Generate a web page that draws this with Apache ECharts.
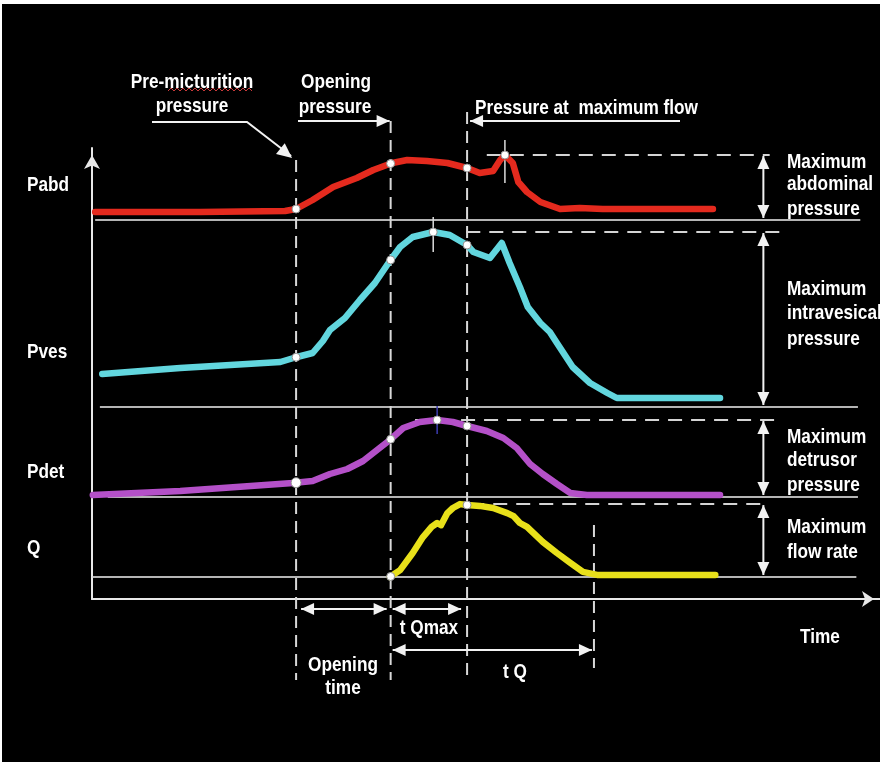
<!DOCTYPE html>
<html>
<head>
<meta charset="utf-8">
<script src="https://cdn.jsdelivr.net/npm/echarts@6/dist/echarts.min.js"></script>
<style>
  html, body { margin: 0; padding: 0; background: #fff; }
  #chart { width: 880px; height: 764px; }
</style>
</head>
<body>
<div id="chart"></div>
<script>
// ---- Urodynamic pressure-flow study (schematic) ----
// Time axis in arbitrary units (0..100)
const timeRange = [0, 100];
// Key events: pre-micturition, opening, maximum flow, end of flow
const eventTimes = [25.9, 37.9, 47.6, 63.7];

// Abdominal pressure [time, cmH2O]
const pabd = [[0.4,4],[13.7,4],[24.5,4.5],[25.9,5.5],[28.0,10],[30.6,16.5],[33.6,21],[35.7,25],[38.1,28.5],
  [40.0,30],[42.5,29.5],[45.1,28.5],[47.6,26],[49.2,23.5],[50.9,24.5],[51.8,30],[52.4,32.5],[53.4,28.5],
  [54.1,19],[55.2,14],[56.9,9],[59.4,5.5],[61.9,6],[64.8,5.5],[78.8,5.5]];
// Intravesical pressure [time, cmH2O]
const pves = [[1.3,16.5],[11.2,19.5],[23.9,22.5],[26.0,25],[28.0,27],[29.3,33],[30.2,38.5],[32.1,44.5],[34.0,53.5],
  [35.9,62],[37.8,73],[39.1,80],[40.7,85],[43.3,87.5],[45.4,86],[47.6,81],[48.4,77.5],[50.5,74.5],[52.0,82],
  [53.0,72],[54.3,60],[55.3,50],[56.9,42],[58.1,37.5],[59.0,32],[61.0,20],[63.2,12],[65.4,7],[66.6,4.5],
  [69.5,4.5],[79.7,4.5]];
// Detrusor pressure [time, cmH2O]
const pdet = [[0.1,1],[11.2,3],[25.5,7],[28.0,8],[30.2,11.5],[32.4,14],[34.4,18],[36.5,24.5],[37.8,28.5],
  [39.5,34.5],[41.6,37.5],[43.8,38.5],[45.8,37.5],[47.6,35.5],[50.1,33],[52.2,29.5],[53.9,24.5],[55.6,16.5],
  [57.2,11.5],[59.0,6.5],[60.7,2],[62.8,1],[79.7,1]];
// Flow rate [time, ml/s]
const qflow = [[37.8,0],[39.1,2.3],[40.7,8],[42.0,13.3],[43.1,16.7],[43.8,18],[44.3,17.3],[45.1,21.3],
  [45.8,23],[46.7,24.3],[47.6,24],[49.2,23.7],[50.9,23],[52.7,21.3],[53.5,20.3],[54.3,18],[55.2,16.7],
  [56.0,14.7],[57.2,11.7],[59.0,8],[60.7,4.7],[62.3,1.7],[64.1,0.7],[67.0,0.7],[79.1,0.7]];

const traceNames = ['Pabd', 'Pves', 'Pdet', 'Q'];
const traceData = [pabd, pves, pdet, qflow];
const traceColors = ['#e42a1e', '#62d6de', '#b450c8', '#e8e01a'];
const yRanges = [40, 90, 40, 30];
// Which events get a marker dot on each trace
const dotEvents = [[0, 1, 2], [0, 1, 2], [0, 1, 2], [1, 2]];
// Extent of zero baseline and of the dashed maximum line, in time units
const baseSpans = [[0.4, 97.5], [1.0, 97.2], [2.0, 97.2], [0.1, 97.0]];
const maxSpans = [[50.1, 86.0], [47.5, 88.3], [41.0, 87.6], [48.0, 85.7]];
const arrowTime = 85.2;

// Layout
const panelGrids = [
  { top: 140, height: 80 },
  { top: 227, height: 180 },
  { top: 417, height: 80 },
  { top: 487, height: 90 }
];
const FONT = 'bold 21px "Liberation Sans", Arial, sans-serif';
const NARROW = 0.82; // horizontal squeeze for a condensed look
const WHITE = '#f2f2f2';

function valueAt(d, t) {
  if (t <= d[0][0]) return d[0][1];
  for (let i = 0; i < d.length - 1; i++) {
    const [t0, v0] = d[i], [t1, v1] = d[i + 1];
    if (t >= t0 && t <= t1) return v0 + (v1 - v0) * (t - t0) / (t1 - t0);
  }
  return d[d.length - 1][1];
}
function peakOf(d) {
  return d.reduce((m, p) => (p[1] > m[1] ? p : m), d[0]);
}

const chart = echarts.init(document.getElementById('chart'));

const grids = panelGrids.map(g => ({ left: 92, width: 788, top: g.top, height: g.height }));
grids.push({ left: 92, width: 788, top: 148, height: 451 }); // frame with axes

const xAxes = grids.map((g, i) => ({
  gridIndex: i, type: 'value', min: timeRange[0], max: timeRange[1],
  show: i === 4,
  axisLine: { show: true, onZero: false, symbol: ['none', 'arrow'], symbolSize: [12, 12], symbolOffset: [0, -6],
    lineStyle: { color: '#e8e8e8', width: 2 } },
  axisTick: { show: false }, axisLabel: { show: false }, splitLine: { show: false }
}));
const yAxes = grids.map((g, i) => ({
  gridIndex: i, type: 'value', min: 0, max: i < 4 ? yRanges[i] : 1,
  show: i === 4,
  axisLine: { show: true, onZero: false, symbol: ['none', 'arrow'], symbolSize: [12, 14], symbolOffset: [0, -7],
    lineStyle: { color: '#e8e8e8', width: 2 } },
  axisTick: { show: false }, axisLabel: { show: false }, splitLine: { show: false }
}));

const series = [];
traceData.forEach((d, i) => {
  const peak = peakOf(d);
  // baseline + dashed maximum line
  series.push({
    type: 'line', xAxisIndex: i, yAxisIndex: i, data: [], silent: true, z: 1, animation: false,
    markLine: {
      silent: true, symbol: 'none', z: 1, animation: false, label: { show: false },
      data: [
        [{ coord: [baseSpans[i][0], 0], lineStyle: { color: '#b4b4b4', width: 2, type: 'solid' } },
         { coord: [baseSpans[i][1], 0] }],
        [{ coord: [maxSpans[i][0], peak[1]], lineStyle: { color: '#d4d4d4', width: 2, type: [14, 9] } },
         { coord: [maxSpans[i][1], peak[1]] }]
      ]
    }
  });
  // trace
  series.push({
    name: traceNames[i], type: 'line', xAxisIndex: i, yAxisIndex: i, data: d, z: 3,
    showSymbol: false, clip: false, animation: false, smooth: false,
    lineStyle: { color: traceColors[i], width: 6.5, cap: 'round', join: 'round' }
  });
  // event dots
  const dots = dotEvents[i].map(e => [eventTimes[e], valueAt(d, eventTimes[e])]);
  if (i < 3) dots.push([peak[0], peak[1]]);
  series.push({
    type: 'scatter', xAxisIndex: i, yAxisIndex: i, z: 4, animation: false, clip: false,
    data: dots.map((p, k) => ({
      value: p,
      symbolSize: (i === 2 && k === 0) ? 10 : 8
    })),
    itemStyle: { color: '#ffffff', borderColor: '#909090', borderWidth: 1, opacity: 1 }
  });
});

chart.setOption({
  backgroundColor: '#ffffff',
  animation: false,
  grid: grids,
  xAxis: xAxes,
  yAxis: yAxes,
  series: series
});

// ---- Annotations ----
function px(gridIndex, t, v) { return chart.convertToPixel({ gridIndex }, [t, v]); }
function xOf(t) { return px(4, t, 0)[0]; }

function seg(x1, y1, x2, y2, o = {}) {
  return { type: 'line', silent: true, z: o.z != null ? o.z : 6,
    shape: { x1, y1, x2, y2 },
    style: { stroke: o.color || WHITE, lineWidth: o.width || 2, lineDash: o.dash || null } };
}
function head(tx, ty, fx, fy, o = {}) {
  const L = o.len || 13, H = o.half || 6;
  const dx = tx - fx, dy = ty - fy, n = Math.hypot(dx, dy);
  const ux = dx / n, uy = dy / n;
  const bx = tx - ux * L, by = ty - uy * L;
  return { type: 'polygon', silent: true, z: 7,
    shape: { points: [[tx, ty], [bx - uy * H, by + ux * H], [bx + uy * H, by - ux * H]] },
    style: { fill: o.color || WHITE } };
}
function arrow(x1, y1, x2, y2, both) {
  const els = [seg(x1, y1, x2, y2), head(x2, y2, x1, y1)];
  if (both) els.push(head(x1, y1, x2, y2));
  return els;
}
function label(text, x, y, align) {
  return { type: 'text', silent: true, z: 8, x, y, scaleX: NARROW,
    style: { text, x: 0, y: 0, fill: '#ffffff', font: FONT,
      align: align || 'left', verticalAlign: 'middle',
      textAlign: align || 'left', textVerticalAlign: 'middle' } };
}

const els = [];
// black panel
els.push({ type: 'rect', silent: true, z: -100, shape: { x: 2, y: 4, width: 878, height: 758 }, style: { fill: '#000' } });

// event verticals (dashed)
const eventExtents = [[160, 680], [121, 680], [112, 680], [525, 668]];
eventTimes.forEach((t, k) => {
  const x = xOf(t);
  els.push(seg(x, eventExtents[k][0], x, eventExtents[k][1], { color: '#d8d8d8', width: 2, dash: [12, 7], z: 2 }));
});

// peak cross-hairs
const crossExt = [[-15, 28, '#dddddd'], [-15, 20, '#dddddd'], [-14, 14, '#3c3cb0']];
[0, 1, 2].forEach(i => {
  const p = peakOf(traceData[i]);
  const [x, y] = px(i, p[0], p[1]);
  els.push(seg(x, y + crossExt[i][0], x, y + crossExt[i][1], { color: crossExt[i][2], width: 1.5, z: 2 }));
});

// maximum double arrows on the right
traceData.forEach((d, i) => {
  const p = peakOf(d);
  const top = px(i, arrowTime, p[1]);
  const bot = px(i, arrowTime, 0);
  els.push(...arrow(top[0], top[1] + 1, bot[0], bot[1] - 2, true));
});

// top call-outs
const xPre = xOf(eventTimes[0]), xOpen = xOf(eventTimes[1]), xQmax = xOf(eventTimes[2]), xEnd = xOf(eventTimes[3]);
els.push({ type: 'polyline', silent: true, z: 6, shape: { points: [[152, 122], [247, 122], [xPre - 5, 156]] },
  style: { stroke: WHITE, lineWidth: 2, fill: null } });
els.push(head(xPre - 4, 158, 247, 122, { len: 15, half: 7 }));
els.push(...arrow(298, 121, xOpen - 1, 121));
els.push(...arrow(680, 121, xQmax + 3, 121));

// bottom intervals
els.push(...arrow(xPre + 5, 609, xOpen - 4, 609, true));
els.push(...arrow(xOpen + 2, 609, xQmax - 6, 609, true));
els.push(...arrow(xOpen + 2, 650, xEnd - 2, 650, true));

// spell-check squiggle under "micturition"
const sq = [];
for (let x = 168, k = 0; x <= 254; x += 3, k++) sq.push([x, k % 2 ? 88 : 91]);
els.push({ type: 'polyline', silent: true, z: 8, shape: { points: sq }, style: { stroke: '#c83a3a', lineWidth: 1, fill: null } });

// texts
els.push(label('Pre-micturition', 192, 82, 'center'));
els.push(label('pressure', 192, 106, 'center'));
els.push(label('Opening', 336, 82, 'center'));
els.push(label('pressure', 335, 107, 'center'));
els.push(label('Pressure at  maximum flow', 475, 108));

els.push(label('Pabd', 27, 185));
els.push(label('Pves', 27, 352));
els.push(label('Pdet', 27, 472));
els.push(label('Q', 27, 548));

[['Maximum', 162], ['abdominal', 184], ['pressure', 209],
 ['Maximum', 289], ['intravesical', 313], ['pressure', 339],
 ['Maximum', 437], ['detrusor', 460], ['pressure', 485],
 ['Maximum', 527], ['flow rate', 552]].forEach(([t, y]) => els.push(label(t, 787, y)));

els.push(label('Time', 820, 637, 'center'));
els.push(label('t Qmax', 429, 628, 'center'));
els.push(label('Opening', 343, 665, 'center'));
els.push(label('time', 343, 688, 'center'));
els.push(label('t Q', 515, 672, 'center'));

chart.setOption({ graphic: { elements: els } });
</script>
</body>
</html>
